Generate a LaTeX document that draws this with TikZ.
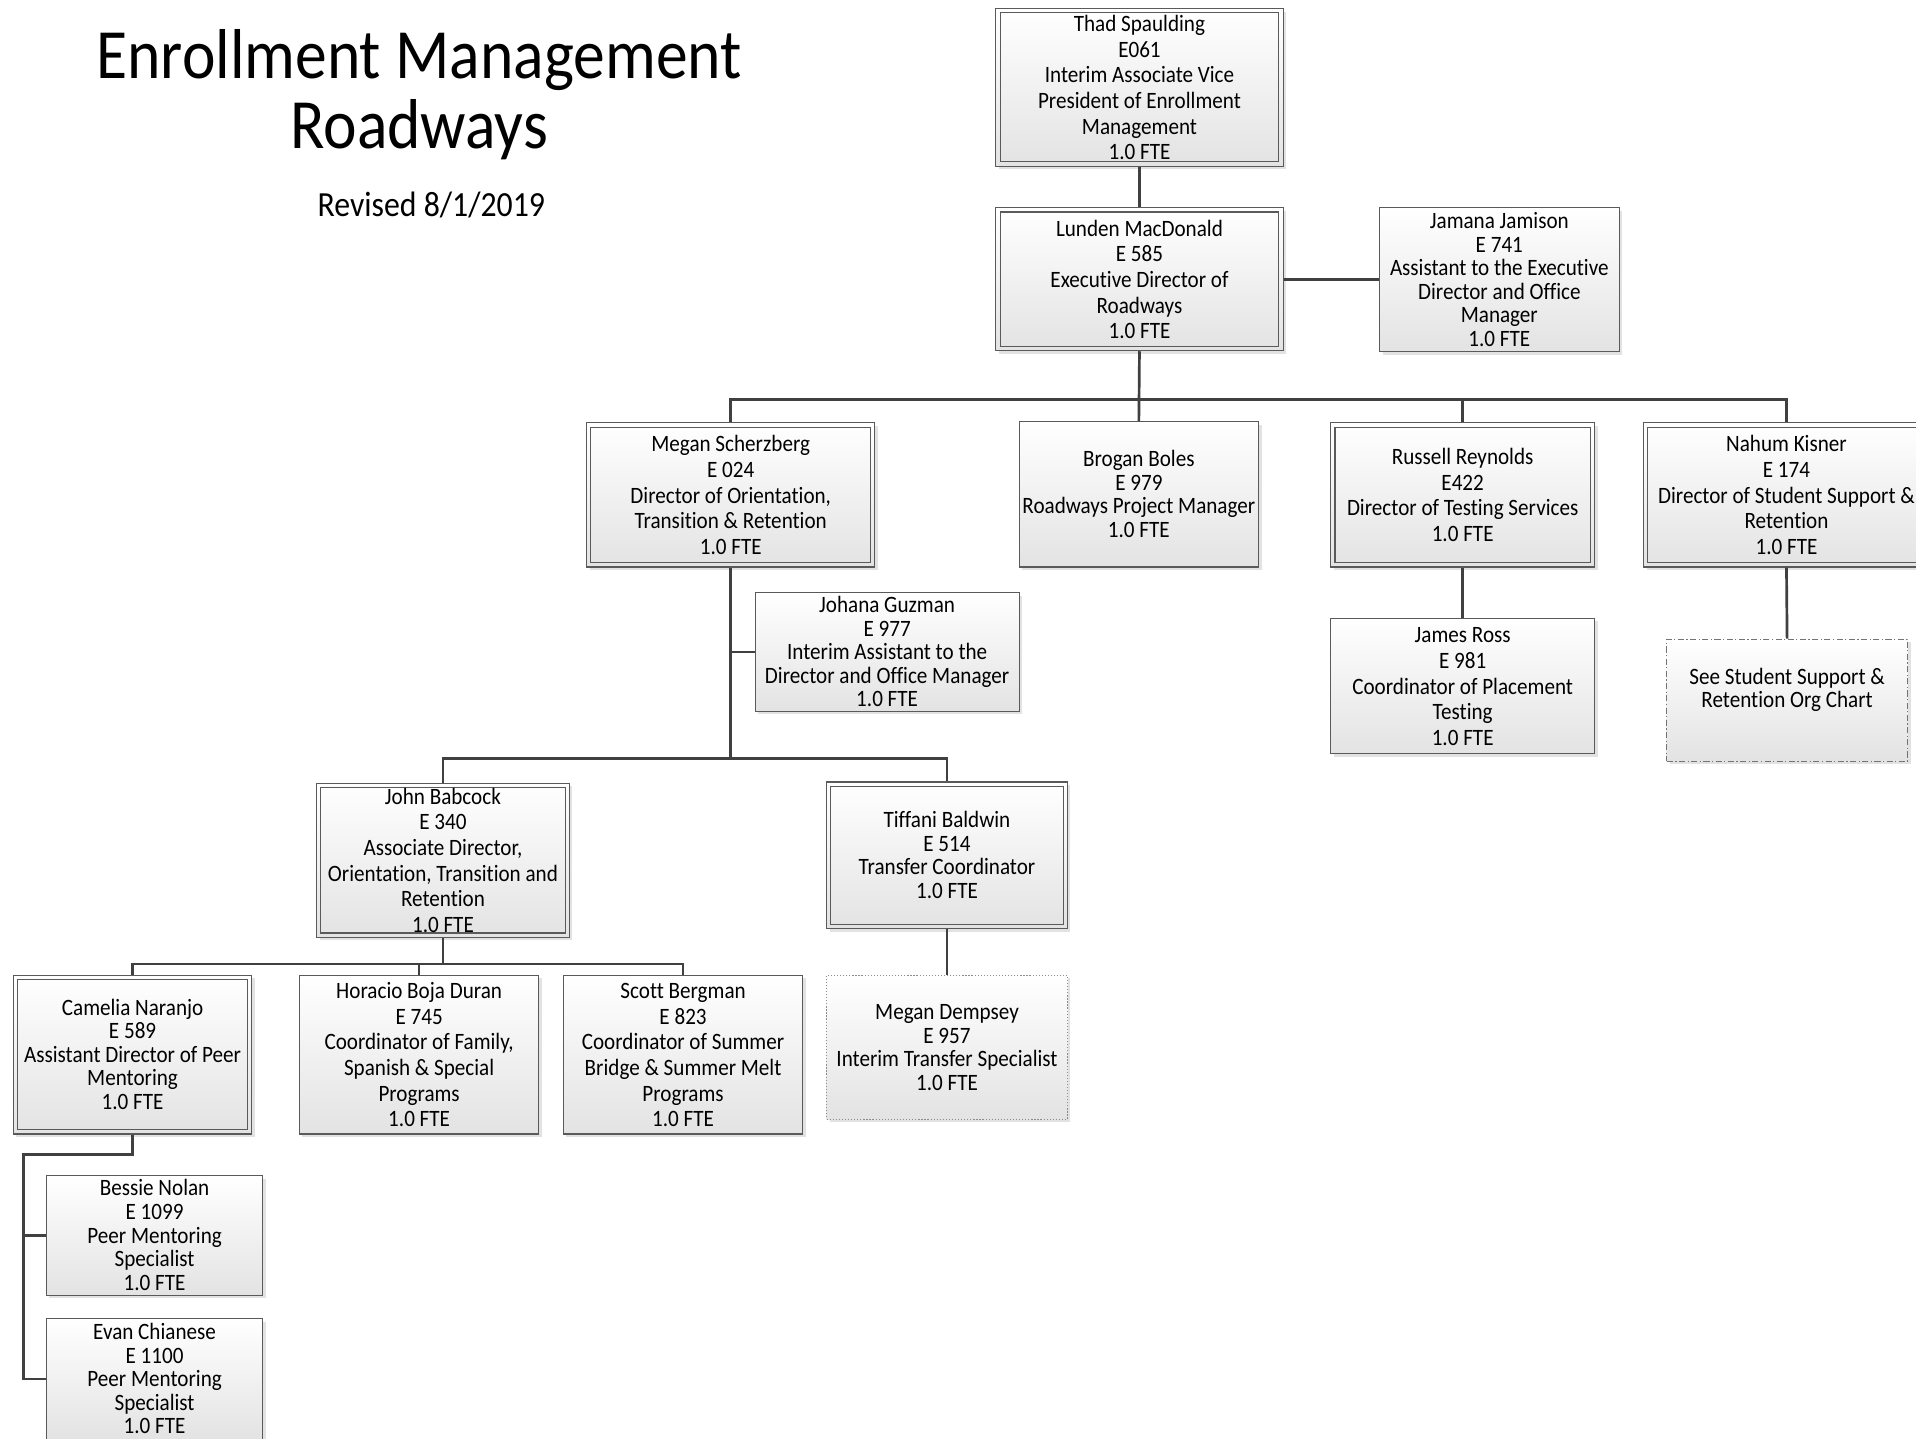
\documentclass[tikz,border=0pt]{standalone}
\usepackage{fontspec}
\setmainfont{Carlito}[Ligatures=NoCommon]
\usepackage{graphicx}
\usetikzlibrary{shadows}
\definecolor{bordc}{HTML}{5A5A5A}
\definecolor{wirec}{HTML}{404040}
\newcommand\tx[1]{\scalebox{0.9}[1]{\begin{tabular}{@{}c@{}}#1\end{tabular}}}
\newcommand\bx[1]{\raisebox{-2.5pt}[\height][\depth]{\tx{#1}}}
\tikzset{
  boxbase/.style={rectangle, inner sep=0pt, draw=bordc, line width=0.9pt,
    top color=white, bottom color=black!11,
    drop shadow={shadow xshift=2.5pt, shadow yshift=-2.5pt, fill=black!22}},
  sgl/.style={boxbase},
  dbl/.style={boxbase, path picture={\draw[bordc, line width=0.9pt]
      ([shift={(3.5pt,-3.5pt)}]path picture bounding box.north west) rectangle
      ([shift={(-3.5pt,3.5pt)}]path picture bounding box.south east);}},
  dashdotbox/.style={boxbase, draw=black!55, dash pattern=on 5pt off 2pt on 1pt off 2pt},
  dotbox/.style={boxbase, draw=black!45, dash pattern=on 1pt off 1.5pt},
  spa/.style={font=\fontsize{19.2}{21}\selectfont},
  spb/.style={font=\fontsize{19.2}{19.3}\selectfont},
  wire/.style={draw=wirec, line width=2.2pt},
  sz/.style n args={2}{minimum width=#1pt, minimum height=#2pt},
}
\begin{document}
\begin{tikzpicture}[x=1pt, y=-1pt]
\useasboundingbox (0,0) rectangle (1568,1177);
\clip (0,0) rectangle (1568,1177);
\fill[white] (0,0) rectangle (1568,1177);

% titles
\node[font=\fontsize{57.8}{57}\selectfont, inner sep=0pt] (title) at (343,81)
  {\tx{Enrollment Management\\Roadways}};
\node[font=\fontsize{28.9}{35}\selectfont, inner sep=0pt] (rev) at (353,170)
  {\tx{Revised 8/1/2019}};

% boxes
\node[dbl, spa, sz={235}{129}] (thad) at (932.5,71.5)
  {\bx{Thad Spaulding\\E061\\Interim Associate Vice\\President of Enrollment\\Management\\1.0 FTE}};
\node[dbl, spa, sz={235}{117}] (lunden) at (932.5,228.5)
  {\bx{Lunden MacDonald\\E 585\\Executive Director of\\Roadways\\1.0 FTE}};
\node[sgl, spb, sz={196}{118}] (jamana) at (1227,229)
  {\bx{Jamana Jamison\\E 741\\Assistant to the Executive\\Director and Office\\Manager\\1.0 FTE}};
\node[dbl, spa, sz={236}{118}] (megan) at (598,405)
  {\bx{Megan Scherzberg\\E 024\\Director of Orientation,\\Transition \& Retention\\1.0 FTE}};
\node[sgl, spb, sz={196}{119}] (brogan) at (932,404.5)
  {\bx{Brogan Boles\\E 979\\Roadways Project Manager\\1.0 FTE}};
\node[dbl, spa, sz={216}{118}] (russell) at (1197,405)
  {\bx{Russell Reynolds\\E422\\Director of Testing Services\\1.0 FTE}};
\node[dbl, spa, sz={234}{118}] (nahum) at (1462,405)
  {\bx{Nahum Kisner\\E 174\\Director of Student Support \&\\Retention\\1.0 FTE}};
\node[sgl, spb, sz={216}{97}] (johana) at (726,533.5)
  {\bx{Johana Guzman\\E 977\\Interim Assistant to the\\Director and Office Manager\\1.0 FTE}};
\node[sgl, spa, sz={216}{111}] (james) at (1197,561.5)
  {\bx{James Ross\\E 981\\Coordinator of Placement\\Testing\\1.0 FTE}};
\node[dashdotbox, spb, sz={197}{100}] (see) at (1462.5,573)
  {\bx{See Student Support \&\\Retention Org Chart\\~}};
\node[dbl, spa, sz={207}{126}] (john) at (362.5,704)
  {\bx{John Babcock\\E 340\\Associate Director,\\Orientation, Transition and\\Retention\\1.0 FTE}};
\node[dbl, spb, sz={197}{120}] (tiffani) at (775,700)
  {\bx{Tiffani Baldwin\\E 514\\Transfer Coordinator\\1.0 FTE}};
\node[dotbox, spb, sz={197}{118}] (dempsey) at (775,857)
  {\bx{Megan Dempsey\\E 957\\Interim Transfer Specialist\\1.0 FTE}};
\node[dbl, spb, sz={195}{130}] (camelia) at (108.5,863)
  {\bx{Camelia Naranjo\\E 589\\Assistant Director of Peer\\Mentoring\\1.0 FTE}};
\node[sgl, spa, sz={196}{130}] (horacio) at (343,863)
  {\bx{Horacio Boja Duran\\E 745\\Coordinator of Family,\\Spanish \& Special\\Programs\\1.0 FTE}};
\node[sgl, spa, sz={196}{130}] (scott) at (559,863)
  {\bx{Scott Bergman\\E 823\\Coordinator of Summer\\Bridge \& Summer Melt\\Programs\\1.0 FTE}};
\node[sgl, spb, sz={177}{98}] (bessie) at (126.5,1011)
  {\bx{Bessie Nolan\\E 1099\\Peer Mentoring\\Specialist\\1.0 FTE}};
\node[sgl, spb, sz={177}{99}] (evan) at (126.5,1128.5)
  {\bx{Evan Chianese\\E 1100\\Peer Mentoring\\Specialist\\1.0 FTE}};

% connectors
\coordinate (t1) at (932.5,327);
\coordinate (t2) at (598,621);
\coordinate (t3) at (362.5,789);
\coordinate (t4) at (19,945);
\draw[wire] (thad.south) -- (lunden.north);
\draw[wire] (lunden.east) -- (lunden.east -| jamana.west);
\draw[wire] (lunden.south) -- (brogan.north);
\draw[wire] (megan.north) |- (t1) -| (nahum.north);
\draw[wire] (russell.north) -- (russell.north |- t1);
\draw[wire] (russell.south) -- (james.north);
\draw[wire] (nahum.south) -- (see.north);
\draw[wire] (megan.south) -- (t2);
\draw[wire] (johana.west) -- (johana.west -| t2);
\draw[wire] (john.north) |- (t2) -| (tiffani.north);
\draw[wire] (tiffani.south) -- (dempsey.north);
\draw[wire] (john.south) -- (t3);
\draw[wire] (camelia.north) |- (t3) -| (scott.north);
\draw[wire] (horacio.north) -- (horacio.north |- t3);
\draw[wire] (camelia.south) |- (t4) |- (evan.west);
\draw[wire] (bessie.west) -- (bessie.west -| t4);
\end{tikzpicture}
\end{document}
